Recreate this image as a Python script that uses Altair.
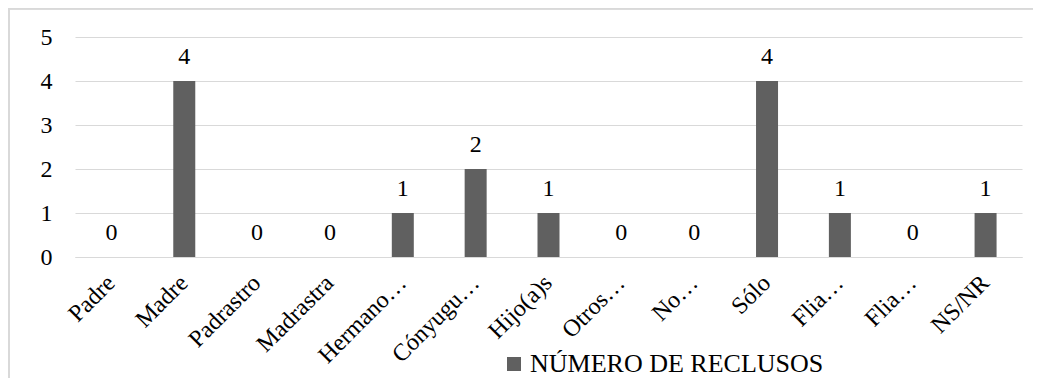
import json
import altair as alt
import pandas as pd

labels = ["Padre", "Madre", "Padrastro", "Madrastra", "Hermano…", "Cónyugu…",
          "Hijo(a)s", "Otros…", "No…", "Sólo", "Flia…", "Flia…", "NS/NR"]
values = [0, 4, 0, 0, 1, 2, 1, 0, 0, 4, 1, 0, 1]
series_name = "NÚMERO DE RECLUSOS"

df = pd.DataFrame({
    "idx": list(range(len(labels))),
    "cat": labels,
    "valor": values,
    "serie": [series_name] * len(labels),
})

FONT = "Liberation Serif"
GRID = "#d9d9d9"
BAR = "#606060"

label_expr = json.dumps(labels, ensure_ascii=False) + "[datum.value]"

x = alt.X("idx:O", title=None,
          scale=alt.Scale(paddingInner=0, paddingOuter=0),
          axis=alt.Axis(labelExpr=label_expr, labelAngle=-45, labelFont=FONT,
                        labelFontSize=24, labelColor="#000000", ticks=False,
                        domainColor=GRID, domainWidth=1, labelPadding=22,
                        labelAlign="right", labelBaseline="middle",
                        labelLimit=300))
y = alt.Y("valor:Q", title=None,
          scale=alt.Scale(domain=[0, 5], nice=False),
          axis=alt.Axis(values=[0, 1, 2, 3, 4, 5], grid=True, gridColor=GRID,
                        gridWidth=1, domain=False, ticks=False, labelFont=FONT,
                        labelFontSize=24, labelColor="#000000", labelPadding=23,
                        format="d"))

bars = alt.Chart(df).mark_bar(width=22).encode(
    x=x, y=y,
    color=alt.Color("serie:N", title=None,
                    scale=alt.Scale(range=[BAR]),
                    legend=alt.Legend(orient="none", legendX=426, legendY=314,
                                      symbolType="square", symbolSize=196,
                                      symbolStrokeWidth=0, labelFont=FONT,
                                      labelFontSize=26, labelColor="#000000",
                                      labelOffset=3, padding=0, labelLimit=500)),
)

text = alt.Chart(df).mark_text(font=FONT, fontSize=24, color="#000000",
                               baseline="alphabetic", dy=-17).encode(
    x=alt.X("idx:O"), y=alt.Y("valor:Q"), text=alt.Text("valor:Q", format="d"))

frame = alt.Chart(df).mark_rect(fill=None, stroke=GRID, strokeWidth=1.5).encode(
    x=alt.value(-66), x2=alt.value(975), y=alt.value(-28.5), y2=alt.value(420))

chart = alt.layer(frame, bars, text).properties(
    width=947, height=220,
    autosize=alt.AutoSizeParams(type="none"),
    padding={"left": 67, "top": 29, "right": 11, "bottom": 121},
).configure(font=FONT).configure_view(stroke=None)

chart.save("out.html", embed_options={"renderer": "svg", "actions": False})
